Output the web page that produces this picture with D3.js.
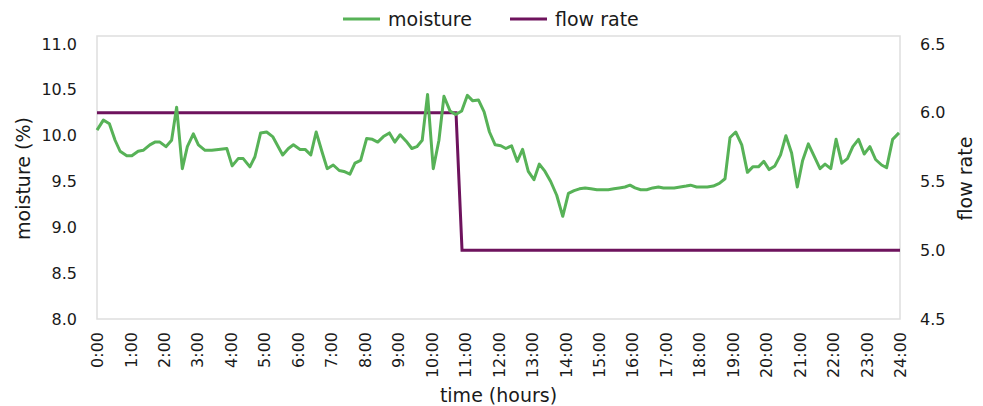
<!DOCTYPE html>
<html>
<head>
<meta charset="utf-8">
<script src="https://cdn.jsdelivr.net/npm/d3@7"></script>
<style>
  body { margin: 0; background: #fff; }
  text { font-family: "DejaVu Sans", sans-serif; fill: #1a1a1a; }
</style>
</head>
<body>
<script>
// readings (time in hours since midnight)
var moistureHours = [0.00,0.19,0.37,0.54,0.69,0.89,1.04,1.23,1.38,1.58,1.73,1.88,2.06,2.23,2.38,2.55,2.70,2.88,3.03,3.23,3.43,3.63,3.88,4.04,4.22,4.37,4.57,4.72,4.89,5.07,5.25,5.55,5.72,5.87,6.07,6.22,6.39,6.55,6.72,6.88,7.06,7.24,7.38,7.56,7.71,7.88,8.06,8.23,8.39,8.56,8.74,8.90,9.06,9.24,9.41,9.56,9.72,9.88,10.05,10.22,10.37,10.55,10.72,10.90,11.07,11.23,11.40,11.57,11.73,11.90,12.07,12.22,12.39,12.56,12.72,12.89,13.06,13.22,13.39,13.56,13.74,13.92,14.09,14.26,14.42,14.59,14.76,14.94,15.11,15.28,15.45,15.61,15.78,15.93,16.08,16.25,16.43,16.61,16.78,16.93,17.08,17.25,17.43,17.61,17.74,17.92,18.07,18.24,18.42,18.60,18.77,18.92,19.09,19.27,19.44,19.60,19.77,19.93,20.09,20.26,20.43,20.59,20.76,20.93,21.09,21.26,21.43,21.61,21.76,21.93,22.09,22.26,22.43,22.59,22.76,22.93,23.10,23.27,23.45,23.60,23.78,23.97];
var moistureValues = [10.06,10.17,10.13,9.95,9.83,9.78,9.78,9.83,9.84,9.90,9.93,9.93,9.88,9.95,10.31,9.64,9.88,10.02,9.90,9.84,9.84,9.85,9.86,9.67,9.75,9.75,9.66,9.77,10.03,10.04,9.99,9.79,9.86,9.90,9.85,9.85,9.79,10.04,9.83,9.64,9.68,9.62,9.61,9.58,9.70,9.73,9.97,9.96,9.93,9.99,10.03,9.93,10.01,9.94,9.86,9.88,9.95,10.45,9.64,9.95,10.43,10.27,10.23,10.27,10.44,10.38,10.39,10.26,10.04,9.90,9.89,9.86,9.89,9.72,9.85,9.61,9.52,9.69,9.61,9.50,9.35,9.12,9.37,9.40,9.42,9.43,9.42,9.41,9.41,9.41,9.42,9.43,9.44,9.46,9.43,9.41,9.41,9.43,9.44,9.43,9.43,9.43,9.44,9.45,9.46,9.44,9.44,9.44,9.45,9.48,9.53,9.98,10.04,9.90,9.60,9.66,9.66,9.72,9.63,9.67,9.79,10.00,9.81,9.44,9.73,9.91,9.78,9.64,9.69,9.64,9.96,9.70,9.75,9.88,9.96,9.80,9.88,9.74,9.68,9.65,9.96,10.03];

var flowHours = [0, 10.73, 10.91, 24];
var flowValues = [6.0, 6.0, 5.0, 5.0];

var hourTicks = d3.range(0, 25);
var moistureTicks = [8.0, 8.5, 9.0, 9.5, 10.0, 10.5, 11.0];
var flowTicks = [4.5, 5.0, 5.5, 6.0, 6.5];

var svgWidth = 983;
var svgHeight = 406;
var margin = { top: 44, right: 83, bottom: 87, left: 97 };
var width = svgWidth - margin.left - margin.right;
var height = svgHeight - margin.top - margin.bottom;

var green = "#57b257";
var purple = "#6e135d";

var svg = d3.select("body").append("svg")
  .attr("width", svgWidth)
  .attr("height", svgHeight);

var chartGroup = svg.append("g")
  .attr("transform", `translate(${margin.left}, ${margin.top})`);

var xScale = d3.scaleLinear().domain([0, 24]).range([0, width]);
var yLeft = d3.scaleLinear().domain([8, 11]).range([height, 0]);
var yRight = d3.scaleLinear().domain([4.5, 6.5]).range([height, 0]);

// plot frame
chartGroup.append("rect")
  .attr("x", 0)
  .attr("y", -8)
  .attr("width", width)
  .attr("height", height + 8)
  .attr("fill", "none")
  .attr("stroke", "#dedede")
  .attr("stroke-width", 1.5);

// left axis
var leftAxis = chartGroup.append("g")
  .call(d3.axisLeft(yLeft).tickValues(moistureTicks).tickFormat(d3.format(".1f")).tickSize(0).tickPadding(20));
leftAxis.select(".domain").remove();
leftAxis.selectAll("text").attr("font-size", 16).attr("font-family", "DejaVu Sans");

// right axis
var rightAxis = chartGroup.append("g")
  .attr("transform", `translate(${width}, 0)`)
  .call(d3.axisRight(yRight).tickValues(flowTicks).tickFormat(d3.format(".1f")).tickSize(0).tickPadding(20));
rightAxis.select(".domain").remove();
rightAxis.selectAll("text").attr("font-size", 16).attr("font-family", "DejaVu Sans");

// bottom axis
var bottomAxis = chartGroup.append("g")
  .attr("transform", `translate(0, ${height})`)
  .call(d3.axisBottom(xScale).tickValues(hourTicks).tickFormat(d => d + ":00").tickSize(0));
bottomAxis.select(".domain").remove();
bottomAxis.selectAll("text")
  .attr("font-size", 16)
  .attr("font-family", "DejaVu Sans")
  .attr("text-anchor", "end")
  .attr("transform", "rotate(-90)")
  .attr("x", -13)
  .attr("y", 0)
  .attr("dy", "0.35em");

// lines
var moistureLine = d3.line()
  .x((d, i) => xScale(moistureHours[i]))
  .y(d => yLeft(d));

var flowLine = d3.line()
  .x((d, i) => xScale(flowHours[i]))
  .y(d => yRight(d));

chartGroup.append("path")
  .datum(flowValues)
  .attr("d", flowLine)
  .attr("fill", "none")
  .attr("stroke", purple)
  .attr("stroke-width", 3);

chartGroup.append("path")
  .datum(moistureValues)
  .attr("d", moistureLine)
  .attr("fill", "none")
  .attr("stroke", green)
  .attr("stroke-width", 3)
  .attr("stroke-linejoin", "round");

// axis titles
svg.append("text")
  .attr("transform", `translate(30, ${margin.top + height / 2 - 3}) rotate(-90)`)
  .attr("text-anchor", "middle")
  .attr("font-size", 19)
  .text("moisture (%)");

svg.append("text")
  .attr("transform", `translate(972, ${margin.top + height / 2 - 3}) rotate(-90)`)
  .attr("text-anchor", "middle")
  .attr("font-size", 19)
  .text("flow rate");

svg.append("text")
  .attr("x", margin.left + width / 2)
  .attr("y", 402)
  .attr("text-anchor", "middle")
  .attr("font-size", 19)
  .text("time (hours)");

// legend
var legend = [
  { name: "moisture", color: green, x: 343 },
  { name: "flow rate", color: purple, x: 510 }
];
var lg = svg.selectAll(".legend").data(legend).enter().append("g")
  .attr("class", "legend")
  .attr("transform", d => `translate(${d.x}, 19)`);
lg.append("line")
  .attr("x1", 0).attr("x2", 37)
  .attr("stroke", d => d.color)
  .attr("stroke-width", 3);
lg.append("text")
  .attr("x", 45)
  .attr("dy", "0.35em")
  .attr("font-size", 19)
  .text(d => d.name);
</script>
</body>
</html>
